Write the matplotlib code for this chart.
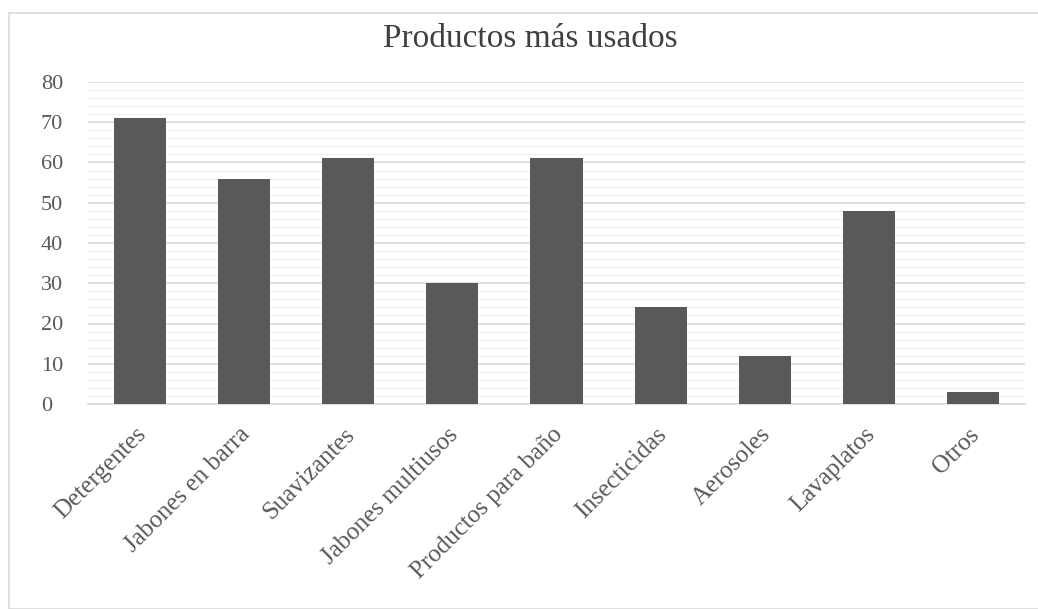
import matplotlib
matplotlib.use("Agg")
import matplotlib.pyplot as plt
from matplotlib.patches import Rectangle
from matplotlib.ticker import MultipleLocator
from matplotlib.transforms import ScaledTranslation

categories = ["Detergentes", "Jabones en barra", "Suavizantes", "Jabones multiusos",
              "Productos para baño", "Insecticidas", "Aerosoles", "Lavaplatos", "Otros"]
values = [71, 56, 61, 30, 61, 24, 12, 48, 3]

plt.rcParams['font.family'] = ['Liberation Serif', 'DejaVu Serif']

fig = plt.figure(figsize=(10.38, 6.09), dpi=100)
fig.patches.append(Rectangle((9/1038, 0.0), 1.2, 1 - 13/609, transform=fig.transFigure,
                             fill=False, edgecolor='#d9d9d9', linewidth=1.2))
ax = fig.add_axes([88/1038, 1 - 404/609, 937/1038, (404 - 82)/609])

x = list(range(len(categories)))
ax.bar(x, values, width=0.5, color='#595959', zorder=3)
ax.set_xlim(-0.5, len(categories) - 0.5)
ax.set_ylim(0, 80)
ax.yaxis.set_major_locator(MultipleLocator(10))
ax.yaxis.set_minor_locator(MultipleLocator(2))
ax.grid(axis='y', which='major', color='#d9d9d9', linewidth=1.2, zorder=0)
ax.grid(axis='y', which='minor', color='#f0f0f0', linewidth=0.9, zorder=0)
for s in ['top', 'right', 'left']:
    ax.spines[s].set_visible(False)
ax.spines['bottom'].set_color('#d9d9d9')
ax.spines['bottom'].set_linewidth(1.2)
ax.tick_params(axis='both', which='both', length=0, colors='#595959')
ax.tick_params(axis='y', labelsize=16, pad=34)
for lbl in ax.get_yticklabels():
    lbl.set_horizontalalignment('left')
ax.set_xticks(x)
ax.set_xticklabels(categories, rotation=45, ha='right', rotation_mode='anchor')
ax.tick_params(axis='x', labelsize=18, pad=14)
off = ScaledTranslation(-5/100, 0, fig.dpi_scale_trans)
for lbl in ax.get_xticklabels():
    lbl.set_transform(lbl.get_transform() + off)
fig.text(0.511, 1 - 47/609, "Productos más usados", ha='center', va='baseline',
         fontsize=24, color='#404040')

fig.savefig("out.png", dpi=100)
